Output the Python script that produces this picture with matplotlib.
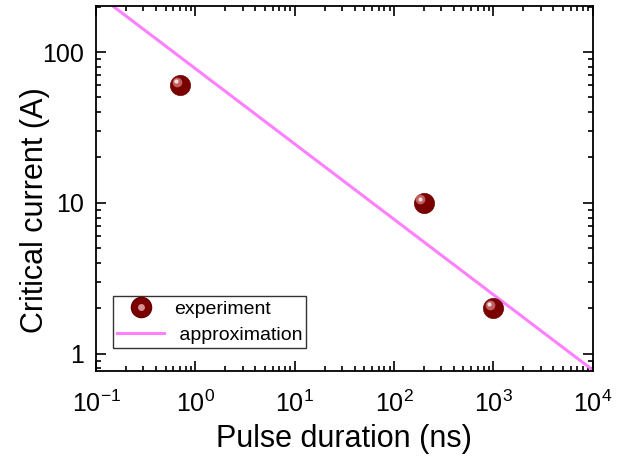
import numpy as np
import matplotlib
matplotlib.use("Agg")
import matplotlib.pyplot as plt
import matplotlib.transforms as mtransforms
from matplotlib.ticker import LogLocator, FuncFormatter, NullFormatter
from matplotlib.legend_handler import HandlerTuple
from matplotlib.lines import Line2D

plt.rcParams['font.family'] = ['Liberation Sans', 'DejaVu Sans']
plt.rcParams['mathtext.fontset'] = 'custom'
plt.rcParams['mathtext.rm'] = 'Liberation Sans'
plt.rcParams['axes.unicode_minus'] = False

# experiment
pulse_ns = [0.7, 200, 1000]
current_A = [60, 10, 2]

# approximation line (endpoints)
approx_ns = [0.1, 1e4]
approx_A = [245, 0.78]

fig = plt.figure(figsize=(6.2, 4.59), dpi=100)
ax = fig.add_axes([0.155, 0.192, 0.801, 0.795])

ax.plot(approx_ns, approx_A, color='#ff80ff', lw=2.2, zorder=2)

ball = '#7a0000'
ax.plot(pulse_ns, current_A, 'o', ms=14.5, color=ball, mec='#6a0000', mew=0.5, zorder=3)
hl = mtransforms.offset_copy(ax.transData, fig=fig, x=-2.5, y=2.5, units='points')
ax.plot(pulse_ns, current_A, 'o', ms=7, color='#c06060', mec='none', transform=hl, zorder=4)
hl2 = mtransforms.offset_copy(ax.transData, fig=fig, x=-3, y=3, units='points')
ax.plot(pulse_ns, current_A, 'o', ms=3, color='#f4dede', mec='none', transform=hl2, zorder=5)

ax.set_xscale('log')
ax.set_yscale('log')
ax.set_xlim(0.1, 1e4)
ax.set_ylim(0.77, 202)

ax.yaxis.set_major_formatter(FuncFormatter(lambda v, p: '%g' % v))
ax.yaxis.set_minor_formatter(NullFormatter())
ax.xaxis.set_minor_locator(LogLocator(base=10, subs=np.arange(2, 10), numticks=20))
ax.yaxis.set_minor_locator(LogLocator(base=10, subs=np.arange(2, 10), numticks=20))

ax.tick_params(which='both', direction='in', top=True, right=True, width=1.2)
ax.tick_params(which='major', length=7, labelsize=18)
ax.tick_params(axis='x', which='major', pad=14)
ax.tick_params(axis='y', which='major', pad=9)
ax.tick_params(which='minor', length=3.5)
for s in ax.spines.values():
    s.set_linewidth(1.3)

ax.set_xlabel('Pulse duration (ns)', fontsize=22, labelpad=5)
ax.set_ylabel('Critical current (A)', fontsize=22)
ax.yaxis.set_label_coords(-0.092, 0.44)

h_ball = (Line2D([], [], ls='none', marker='o', ms=14.5, color=ball, mec='#6a0000'),
          Line2D([], [], ls='none', marker='o', ms=5, color='#d89090', mec='none'))
h_line = Line2D([], [], color='#ff80ff', lw=2.2)
leg = ax.legend([h_ball, h_line], ['experiment', ' approximation'],
                handler_map={tuple: HandlerTuple(ndivide=1)},
                loc='lower left', bbox_to_anchor=(0.035, 0.063), fontsize=14,
                frameon=True, fancybox=False, edgecolor='#333333', framealpha=1,
                borderpad=0.2, handlelength=2.4, labelspacing=0.45, handletextpad=0.5,
                borderaxespad=0)
leg.get_frame().set_linewidth(1.0)

fig.savefig('out.png', dpi=100)
